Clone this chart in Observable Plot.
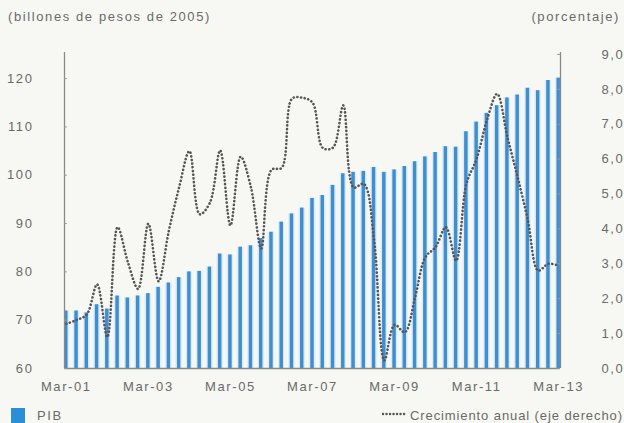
<!DOCTYPE html>
<html><head><meta charset="utf-8">
<script src="https://cdn.jsdelivr.net/npm/d3@7"></script>
<script src="https://cdn.jsdelivr.net/npm/@observablehq/plot@0.6"></script>
<style>
html,body{margin:0;padding:0;background:#f7f8f3;}
body{width:624px;height:423px;overflow:hidden;font-family:"Liberation Sans",Arial,sans-serif;color:#6a6a6a;}
.hdr{position:relative;height:30px;font-size:13px;letter-spacing:1.6px;white-space:nowrap;}
.hdr .l{position:absolute;left:8px;top:9px;}
.hdr .r{position:absolute;right:4px;top:9px;}
#chart svg text{letter-spacing:1.6px;}
.leg{position:relative;height:23px;font-size:13px;letter-spacing:0.9px;white-space:nowrap;line-height:13px;}
.leg .sq{position:absolute;left:11px;top:8px;width:14px;height:15px;background:#2b8fd8;}
.leg .t1{position:absolute;left:37px;top:9px;letter-spacing:1.6px;}
.leg .ln{position:absolute;left:381px;top:8px;}
.leg .t2{position:absolute;left:410px;top:9px;}
</style></head>
<body>
<div class="hdr"><span class="l">(billones de pesos de 2005)</span><span class="r">(porcentaje)</span></div>
<div id="chart"></div>
<div class="leg"><div class="sq"></div><span class="t1">PIB</span>
<svg class="ln" width="28" height="12"><line x1="2" y1="6" x2="26" y2="6" stroke="#555" stroke-width="2.4" stroke-dasharray="0.1 3.4" stroke-linecap="round"/></svg>
<span class="t2">Crecimiento anual (eje derecho)</span></div>
<script>
const months = ["Mar","Jun","Sep","Dic"];
const years = ["01","02","03","04","05","06","07","08","09","10","11","12","13"];
const quarters = [];
years.forEach(y => months.forEach(m => quarters.push(m + "-" + y)));
quarters.length = 49;

const pib = [71.9,71.9,71.5,73.2,72.3,75.0,74.6,75.0,75.5,76.8,77.7,78.8,80.0,80.1,81.0,83.7,83.5,85.1,85.4,86.9,88.2,90.3,92.0,93.2,95.2,95.8,97.9,100.3,100.6,100.8,101.6,100.6,101.1,101.8,102.8,103.8,104.7,105.9,105.8,109.0,111.0,112.8,114.4,116.0,116.6,118.0,117.5,119.6,120.1];
const growth = [1.28,1.39,1.55,2.41,0.90,4.05,3.05,2.28,4.15,2.50,3.95,5.19,6.23,4.42,4.75,6.25,4.10,6.07,5.19,3.44,5.69,5.75,7.73,7.76,7.62,6.32,6.33,7.54,5.19,5.29,3.70,0.23,1.25,1.04,2.04,3.19,3.48,4.05,3.09,5.29,6.01,7.11,7.87,6.63,5.48,4.24,2.81,3.00,2.95];
const leftTicks = [60,70,80,90,100,110,120];
const rightTicks = [0,1,2,3,4,5,6,7,8,9];
const xTickLabels = ["Mar-01","Mar-03","Mar-05","Mar-07","Mar-09","Mar-11","Mar-13"];

const yMin = 60, yMax = 125.4, rMax = 9, rTop = 125;
const toLeft = g => yMin + g * (rTop - yMin) / rMax;
const data = quarters.map((q, i) => ({i, q, pib: pib[i], g: growth[i]}));
const xLo = -0.175, xHi = 48.175;
const xTicks = xTickLabels.map(l => quarters.indexOf(l));

const chart = Plot.plot({
  width: 624, height: 370,
  marginTop: 22, marginBottom: 32, marginLeft: 64, marginRight: 64,
  x: {domain: [xLo, xHi], axis: null, label: null},
  y: {domain: [yMin, yMax], axis: null, label: null},
  style: {background: "transparent", fontFamily: "'Liberation Sans', Arial, sans-serif", fontSize: "13px", color: "#6a6a6a"},
  marks: [
    Plot.rectY(data, {x1: d => d.i - 0.32, x2: d => d.i + 0.32, y1: yMin, y2: "pib", fill: "#dcedf9", clip: true}),
    Plot.rectY(data, {x1: d => d.i - 0.17, x2: d => d.i + 0.17, y1: yMin, y2: "pib", fill: "#3f8ed0"}),
    Plot.line(data, {x: "i", y: d => toLeft(d.g), stroke: "#555", strokeWidth: 2.6, strokeDasharray: "0.1 3.6", strokeLinecap: "round", curve: "catmull-rom"}),
    Plot.ruleX([xLo, xHi], {y1: yMin, y2: yMax, stroke: "#8a8a8a", strokeWidth: 1.3}),
    Plot.ruleY([yMin], {x1: xLo, x2: xHi, stroke: "#8a8a8a", strokeWidth: 1.3}),
    Plot.ruleY(leftTicks, {x1: xLo, x2: xLo + 0.28, stroke: "#999"}),
    Plot.ruleY(rightTicks.map(toLeft), {x1: xHi - 0.28, x2: xHi, stroke: "#999"}),
    Plot.axisY(leftTicks, {anchor: "left", tickSize: 0, tickPadding: 31, label: null}),
    Plot.axisY(rightTicks.map(toLeft), {anchor: "right", tickSize: 0, tickPadding: 41, label: null,
      tickFormat: v => ((v - yMin) * rMax / (rTop - yMin)).toFixed(1).replace(".", ",")}),
    Plot.axisX(xTicks, {tickSize: 0, tickPadding: 13, label: null, tickFormat: i => quarters[i]})
  ]
});
document.getElementById("chart").appendChild(chart);
</script>
</body></html>
